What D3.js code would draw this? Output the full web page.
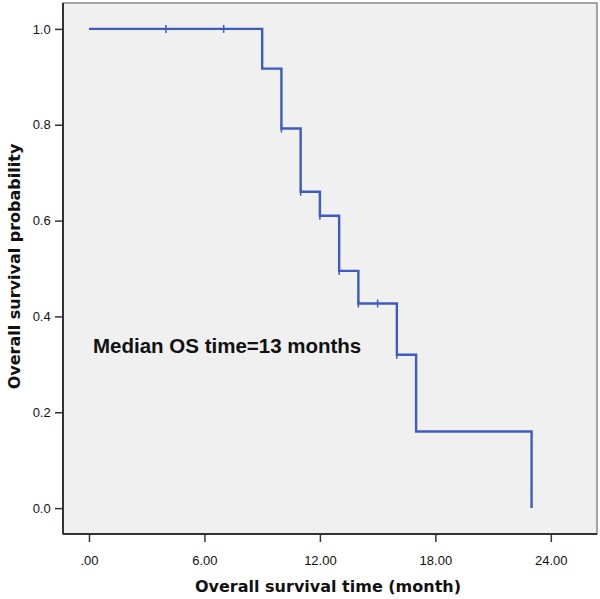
<!DOCTYPE html>
<html>
<head>
<meta charset="utf-8">
<script src="https://cdn.jsdelivr.net/npm/d3@7"></script>
<style>
html,body{margin:0;padding:0;background:#fff;}
svg{display:block;}
</style>
</head>
<body>
<svg id="chart" width="600" height="599"></svg>
<script>
// Kaplan-Meier step data (time in months, survival probability)
const stepTimes = [0, 9, 10, 11, 12, 13, 14, 16, 17, 23];
const stepSurv  = [1.0, 0.917, 0.792, 0.66, 0.61, 0.495, 0.427, 0.32, 0.16, 0.0];
// censored observations
const censorTimes = [4, 7, 10, 11, 12, 13, 14, 15, 16];
const censorSurv  = [1.0, 1.0, 0.792, 0.66, 0.61, 0.495, 0.427, 0.427, 0.32];
const xTicks = [0, 6, 12, 18, 24];
const yTicks = [0.0, 0.2, 0.4, 0.6, 0.8, 1.0];
const annotation = "Median OS time=13 months";
const xTitle = "Overall survival time (month)";
const yTitle = "Overall survival probability";

const svg = d3.select("#chart");
const L = 63, R = 597, T = 3, B = 534;
const x = d3.scaleLinear().domain([-1.35, 26.4]).range([L, R]);
const y = d3.scaleLinear().domain([-0.054, 1.054]).range([B, T]);

// plot background
svg.append("rect").attr("x", L).attr("y", T).attr("width", R - L).attr("height", B - T)
  .attr("fill", "#f0f0f0").attr("stroke", "#8a8a8a").attr("stroke-width", 1.5);

// axes
const yAxis = d3.axisLeft(y).tickValues(yTicks).tickFormat(d3.format(".1f")).tickSize(8).tickSizeOuter(0);
const gy = svg.append("g").attr("transform", `translate(${L},0)`).call(yAxis);
const xAxis = d3.axisBottom(x).tickValues(xTicks)
  .tickFormat(d => d === 0 ? ".00" : d3.format(".2f")(d)).tickSize(8).tickSizeOuter(0);
const gx = svg.append("g").attr("transform", `translate(0,${B})`).call(xAxis);
[gx, gy].forEach(g => {
  g.select(".domain").attr("stroke", "#333").attr("stroke-width", 2);
  g.selectAll(".tick line").attr("stroke", "#333").attr("stroke-width", 1.5);
  g.selectAll(".tick text").attr("fill", "#111").style("font-family", "Liberation Sans, Arial, sans-serif").style("font-size", "13px");
});
gy.select(".domain").attr("d", `M0,${T}V${B}`);
gx.select(".domain").attr("d", `M${L},0H${R}`);
gx.selectAll(".tick text").attr("dy", "1.55em");
gy.selectAll(".tick text").attr("dx", "-0.1em");

// survival curve: horizontal until next event time, then vertical drop
const path = d3.path();
path.moveTo(x(stepTimes[0]), y(stepSurv[0]));
for (let i = 1; i < stepTimes.length; i++) {
  path.lineTo(x(stepTimes[i]), y(stepSurv[i - 1]));
  path.lineTo(x(stepTimes[i]), y(stepSurv[i]));
}
svg.append("path").attr("d", path.toString()).attr("fill", "none")
  .attr("stroke", "#3c5cbf").attr("stroke-width", 2.4);

// censor marks
svg.selectAll(".censor").data(censorTimes.map((t, i) => [t, censorSurv[i]])).enter()
  .append("line").attr("class", "censor")
  .attr("x1", d => x(d[0])).attr("x2", d => x(d[0]))
  .attr("y1", d => y(d[1]) - 4).attr("y2", d => y(d[1]) + 4)
  .attr("stroke", "#3c5cbf").attr("stroke-width", 1.5);

// annotation
svg.append("text").attr("x", 93).attr("y", 353).text(annotation)
  .style("font-family", "Liberation Sans, Arial, sans-serif").style("font-size", "20.5px")
  .style("font-weight", "bold").attr("fill", "#111");

// titles
svg.append("text").attr("x", (L + R) / 2 - 2).attr("y", 592).attr("text-anchor", "middle").text(xTitle)
  .style("font-family", "DejaVu Sans, sans-serif").style("font-size", "16px").style("font-weight", "bold").attr("fill", "#111");
svg.append("text").attr("transform", `translate(20,${(T + B) / 2 - 2}) rotate(-90)`).attr("text-anchor", "middle").text(yTitle)
  .style("font-family", "DejaVu Sans, sans-serif").style("font-size", "16px").style("font-weight", "bold").attr("fill", "#111");
</script>
</body>
</html>
